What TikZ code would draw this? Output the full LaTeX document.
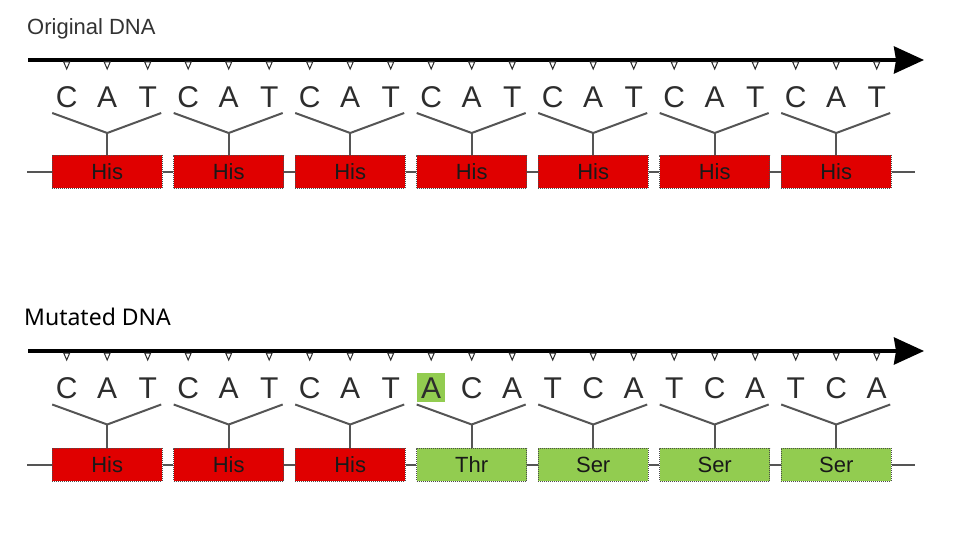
\documentclass[tikz,border=0pt]{standalone}
\usepackage{fontspec}
\setmainfont{Liberation Sans}
\newfontfamily\mutfont{Noto Sans}
\usetikzlibrary{arrows.meta,calc}
\definecolor{hisred}{RGB}{224,0,0}
\definecolor{mutgreen}{RGB}{146,204,80}
\definecolor{linegray}{RGB}{85,85,85}
\definecolor{basegray}{RGB}{45,45,45}
\tikzset{
  strand/.style={line width=3.5pt,-{Stealth[length=30pt,width=27pt,inset=2pt]}},
  tickmark/.style={draw=basegray,fill=white,line width=1pt},
  nucl/.style={anchor=base,inner sep=0pt,text=basegray,font=\fontsize{30}{30}\selectfont},
  yfork/.style={draw=linegray,line width=2pt},
  codonbox/.style={draw=black!70,densely dotted,line width=1pt,minimum width=110pt,minimum height=33pt,inner sep=0pt,text=black!90,font=\fontsize{22}{22}\selectfont},
  his/.style={codonbox,fill=hisred},
  mut/.style={codonbox,fill=mutgreen},
}

\begin{document}
\begin{tikzpicture}[x=1pt,y=-1pt]
\useasboundingbox (0,0) rectangle (966,548);

% original strand
\node[anchor=base west,inner sep=0pt,text=black!80,font=\fontsize{22}{22}\selectfont] (otitle) at (27,35) {Original DNA};
\coordinate (os) at (28,60);
\coordinate (oe) at (924,60);
\draw[strand] (os) -- (oe);
\foreach \k in {0,...,20}
  \draw[tickmark] ({63.7+40.5*\k},62) -- ++(6,0) -- ++(-3,7) -- cycle;
\foreach \b [count=\k from 0] in {C,A,T,C,A,T,C,A,T,C,A,T,C,A,T,C,A,T,C,A,T}
  \node[nucl] (o\k) at ({66.7+40.5*\k},108) {\b};

\node[his] (ob1) at (107.2,172) {His};
\node[his] (ob2) at (228.7,172) {His};
\node[his] (ob3) at (350.2,172) {His};
\node[his] (ob4) at (471.7,172) {His};
\node[his] (ob5) at (593.2,172) {His};
\node[his] (ob6) at (714.7,172) {His};
\node[his] (ob7) at (836.2,172) {His};

\foreach \i in {1,...,7} {
  \draw[yfork] ($(ob\i.north)+(-55,-42)$) -- ($(ob\i.north)+(0,-22)$) -- ($(ob\i.north)+(54,-42)$);
  \draw[yfork] (ob\i.north) -- ++(0,-22);
}

\coordinate (ol) at (27,172);
\coordinate (or) at (915,172);
\draw[yfork] (ol) -- (ob1.west);
\draw[yfork] (ob1.east) -- (ob2.west);
\draw[yfork] (ob2.east) -- (ob3.west);
\draw[yfork] (ob3.east) -- (ob4.west);
\draw[yfork] (ob4.east) -- (ob5.west);
\draw[yfork] (ob5.east) -- (ob6.west);
\draw[yfork] (ob6.east) -- (ob7.west);
\draw[yfork] (ob7.east) -- (or);

% mutated strand
\node[anchor=base west,inner sep=0pt,text=black,font=\mutfont\fontsize{23}{23}\selectfont] (mtitle) at (24,325) {Mutated DNA};
\coordinate (ms) at (28,351);
\coordinate (me) at (924,351);
\draw[strand] (ms) -- (me);
\foreach \k in {0,...,20}
  \draw[tickmark] ({63.7+40.5*\k},353) -- ++(6,0) -- ++(-3,7) -- cycle;
\fill[mutgreen] (417.2,373) rectangle (445.2,402);
\foreach \b [count=\k from 0] in {C,A,T,C,A,T,C,A,T,A,C,A,T,C,A,T,C,A,T,C,A}
  \node[nucl] (m\k) at ({66.7+40.5*\k},398) {\b};

\node[his] (mb1) at (107.2,464.5) {His};
\node[his] (mb2) at (228.7,464.5) {His};
\node[his] (mb3) at (350.2,464.5) {His};
\node[mut] (mb4) at (471.7,464.5) {Thr};
\node[mut] (mb5) at (593.2,464.5) {Ser};
\node[mut] (mb6) at (714.7,464.5) {Ser};
\node[mut] (mb7) at (836.2,464.5) {Ser};

\foreach \i in {1,...,7} {
  \draw[yfork] ($(mb\i.north)+(-55,-43)$) -- ($(mb\i.north)+(0,-23)$) -- ($(mb\i.north)+(54,-43)$);
  \draw[yfork] (mb\i.north) -- ++(0,-23);
}

\coordinate (ml) at (27,464.5);
\coordinate (mr) at (915,464.5);
\draw[yfork] (ml) -- (mb1.west);
\draw[yfork] (mb1.east) -- (mb2.west);
\draw[yfork] (mb2.east) -- (mb3.west);
\draw[yfork] (mb3.east) -- (mb4.west);
\draw[yfork] (mb4.east) -- (mb5.west);
\draw[yfork] (mb5.east) -- (mb6.west);
\draw[yfork] (mb6.east) -- (mb7.west);
\draw[yfork] (mb7.east) -- (mr);
\end{tikzpicture}
\end{document}
